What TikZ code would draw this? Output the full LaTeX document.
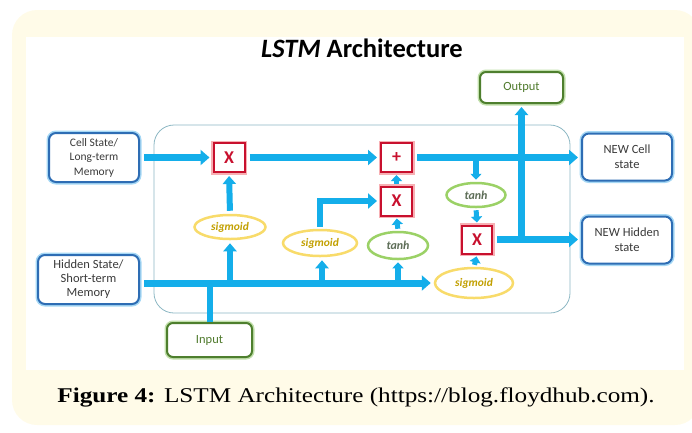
\documentclass[tikz,border=0pt]{standalone}
\usepackage{fontspec}
\setmainfont{Liberation Serif}
\newfontfamily\capfont[FakeStretch=1.2]{Liberation Serif}
\newfontfamily\carl{Carlito}
\usetikzlibrary{arrows.meta,shapes.geometric}
\definecolor{bgyellow}{HTML}{FFFBE8}
\definecolor{flowblue}{HTML}{14AEEA}
\definecolor{boxblue}{HTML}{2E6DB4}
\definecolor{glowblue}{HTML}{A6D8F5}
\definecolor{boxgreen}{HTML}{4E7F2E}
\definecolor{glowgreen}{HTML}{C2E0AC}
\definecolor{textgreen}{HTML}{4F7A2C}
\definecolor{gatered}{HTML}{C8102E}
\definecolor{glowred}{HTML}{F7B0B4}
\definecolor{sigyellow}{HTML}{F8DB6A}
\definecolor{sigtext}{HTML}{C2A000}
\definecolor{tanhgreen}{HTML}{9BD166}
\definecolor{tanhtext}{HTML}{5E6E58}
\definecolor{framecol}{HTML}{8DB8C4}
\definecolor{textgray}{HTML}{3A3A3A}
\tikzset{
  bluebox/.style={rectangle, rounded corners=7pt, draw=boxblue, line width=2pt,
    preaction={draw=glowblue, line width=5pt}, fill=white, align=center,
    font=\carl\fontsize{11.5}{14.5}\selectfont, text=textgray, inner sep=0pt},
  greenbox/.style={rectangle, rounded corners=6pt, draw=boxgreen, line width=2pt,
    preaction={draw=glowgreen, line width=5pt}, fill=white, align=center,
    font=\carl\fontsize{12.5}{14}\selectfont, text=textgreen, inner sep=0pt},
  gate/.style={rectangle, draw=gatered, line width=2pt,
    preaction={draw=glowred, line width=5pt}, fill=white,
    minimum width=31pt, minimum height=29pt, inner sep=0pt,
    font=\carl\bfseries\fontsize{18}{18}\selectfont, text=gatered},
  sigm/.style={ellipse, draw=sigyellow, line width=2.5pt, fill=white, inner sep=0pt,
    font=\carl\bfseries\itshape\fontsize{11.5}{13}\selectfont, text=sigtext},
  tanhn/.style={ellipse, draw=tanhgreen, line width=2.5pt, fill=white, inner sep=0pt,
    font=\carl\bfseries\itshape\fontsize{12}{13}\selectfont, text=tanhtext},
  flow/.style={draw=flowblue, line width=7pt, -{Triangle[width=15pt,length=9pt]},
    shorten <=4pt, shorten >=3pt},
  vflow/.style={draw=flowblue, line width=6pt, -{Triangle[width=13pt,length=8pt]},
    shorten >=3pt},
  sflow/.style={draw=flowblue, line width=5pt, -{Triangle[width=11pt,length=6pt]},
    shorten <=2pt, shorten >=2pt},
  plainflow/.style={draw=flowblue, line width=6pt},
}
\begin{document}
\begin{tikzpicture}[x=1pt,y=-1pt]
\useasboundingbox (0,0) rectangle (692,432);
% backgrounds
\fill[bgyellow] (12,10) [rounded corners=25pt] rectangle (700,425);
\fill[white] (26,37) rectangle (684,370);
% title
\node (title) at (362,48) {\carl\bfseries\fontsize{26.5}{28}\selectfont\itshape LSTM\upshape\ Architecture};
% frame
\draw[framecol, line width=0.8pt, rounded corners=20pt] (154,125) rectangle (570,313);
% boxes
\node[bluebox, minimum width=90pt, minimum height=49pt] (cell) at (94,157.5) {Cell State/\\Long-term\\Memory};
\node[bluebox, minimum width=101pt, minimum height=49pt, font=\carl\fontsize{12.5}{14}\selectfont] (hidden) at (88.5,279.5) {Hidden State/\\Short-term\\Memory};
\node[greenbox, minimum width=85pt, minimum height=34pt] (input) at (209.5,340) {Input};
\node[greenbox, minimum width=83pt, minimum height=31pt] (output) at (521.5,87.5) {Output};
\node[bluebox, minimum width=90pt, minimum height=47pt, font=\carl\fontsize{12.5}{15}\selectfont] (newcell) at (627,157) {NEW Cell\\state};
\node[bluebox, minimum width=90pt, minimum height=47pt, font=\carl\fontsize{12.5}{15}\selectfont] (newhid) at (627,240) {NEW Hidden\\state};
% gates
\node[gate] (x1) at (229,157.5) {X};
\node[gate] (plus) at (396.5,157.5) {+};
\node[gate] (x2) at (396.5,201) {X};
\node[gate, minimum width=30pt, minimum height=28pt] (x3) at (477,239.5) {X};
% activations
\node[sigm, minimum width=71pt, minimum height=24pt] (sig1) at (230,227) {sigmoid};
\node[sigm, minimum width=74pt, minimum height=26pt] (sig2) at (320,243) {sigmoid};
\node[tanhn, minimum width=60pt, minimum height=27pt] (tanh1) at (398,245.5) {tanh};
\node[tanhn, minimum width=59pt, minimum height=24pt] (tanh2) at (476,195) {tanh};
\node[sigm, minimum width=78pt, minimum height=30pt] (sig3) at (474,283) {sigmoid};
% cell state line
\draw[flow] (cell.east |- x1.west) -- (x1.west);
\draw[flow] (x1.east) -- (plus.west);
\draw[flow] (plus.east) -- (newcell.west |- plus.east);
\coordinate (ct) at (tanh2.north |- plus.east);
\draw[sflow, shorten <=0pt, line width=6pt] (ct) -- (tanh2.north);
\draw[sflow] (tanh2.south) -- (x3.north);
\draw[sflow] (sig3.north) -- (x3.south);
% hidden line
\draw[flow] (hidden.east |- sig3.west) -- (sig3.west);
\coordinate (hin) at (input.north |- sig3.west);
\draw[plainflow] (input.north) -- (hin);
\coordinate (h1) at (sig1.south |- sig3.west);
\draw[vflow] (h1) -- (sig1.south);
\draw[vflow, shorten <=3pt] (sig1.north) -- (x1.south);
\coordinate (h2) at (322,283);
\draw[vflow] (h2) -- (h2 |- sig2.south);
\draw[flow, line width=6pt, shorten <=2pt] (sig2.north) |- (x2.west);
\coordinate (h3) at (tanh1.south |- sig3.west);
\draw[sflow, shorten <=0pt, line width=6pt] (h3) -- (tanh1.south);
\draw[sflow] (tanh1.north) -- (x2.south);
\draw[sflow] (x2.north) -- (plus.south);
% new hidden state and output
\draw[flow] (x3.east) -- (newhid.west |- x3.east);
\coordinate (oj) at (output.south |- x3.east);
\draw[vflow, line width=6.5pt] (oj) -- (output.south);
% caption
\node (caption) at (356,397) {\capfont\fontsize{21}{24}\selectfont\textbf{Figure 4:} LSTM Architecture (https://blog.floydhub.com).};
\end{tikzpicture}
\end{document}
